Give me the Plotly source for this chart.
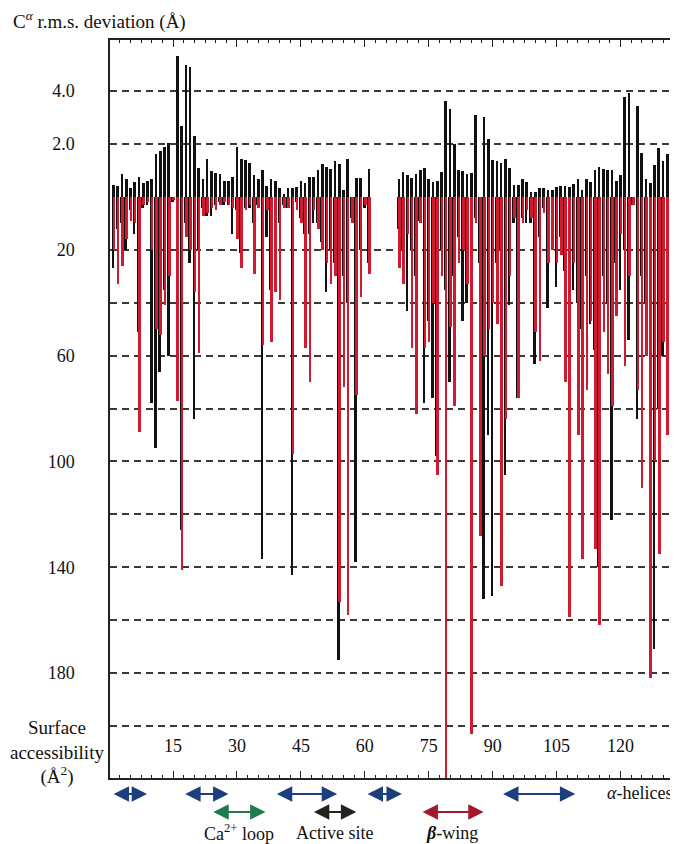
import plotly.graph_objects as go

# ---------------- data ----------------
residues = list(range(1, 133))

rms_dev = [1.17, 1.15, 1.35, 1.26, 1.13, 1.21, 1.30, 1.20, 1.24, 1.26,
           1.75, 1.83, 1.92, 2.03, None, 6.3, 2.54, 5.6, 5.5, 2.22,
           1.46, 1.26, 1.64, 1.40, 1.37, 1.35, 1.24, 1.24, 1.30, 1.92,
           1.64, 1.63, 1.56, 1.33, 1.26, 1.42, 1.16, 1.26, 1.23, 1.13,
           1.04, 1.13, 1.13, 1.14, 1.23, 1.20, 1.30, 1.30, 1.42, 1.55,
           1.48, 1.45, 1.60, 1.53, 1.09, 1.64, None, 1.28, 1.28, None,
           1.44, None, None, None, None, None, None, 1.27, 1.39, 1.33,
           1.29, 1.35, 1.42, 1.47, 1.26, 1.21, 1.23, 1.39, 3.5, 3.16,
           1.99, 1.42, 1.41, 1.36, 1.37, 2.94, None, 2.84, 2.14, 1.63,
           1.60, 1.56, 1.65, 1.46, 1.17, 1.17, 1.26, 1.21, 1.07, 1.07,
           1.13, 1.13, 1.09, 1.09, 1.14, 1.16, 1.15, 1.14, 1.19, 1.27,
           1.09, 1.26, 1.21, 1.42, 1.48, 1.44, 1.42, 1.42, 1.23, 1.34,
           3.68, 3.88, None, 3.3, 1.78, 1.26, 1.20, 1.52, 1.91, 1.60,
           1.76, 1.47]

acc_black = [27, 12, 10, 20, 5, 14, 51, 4, 3, 78,
             95, 66, 35, 60, 2, 5, 126, 10, 25, 84,
             20, 4, 7, 7, 3, 2, 3, 3, 14, 5,
             21, 4, 4, 10, 3, 137, 15, 35, 20, 10,
             3, 4, 143, 2, 8, 14, 14, 10, 10, 17,
             36, 20, 25, 175, 30, 40, 8, 138, 20, 4,
             25, None, None, None, None, None, None, 12, 20, 43,
             20, 30, 9, 78, 47, 76, 98, 20, 35, 70,
             30, 15, 47, 40, 10, 8, 25, 152, 90, 151,
             25, 20, 105, 41, 10, 76, 8, 10, 10, 63,
             15, 4, 42, 12, 34, 15, 28, 132, 35, 40,
             50, 30, 48, 58, 140, 30, 40, 122, 25, 35,
             20, 54, 3, 84, 30, 40, 60, 171, 80, 60,
             60, 126]

acc_red = [20, 33, 26, 16, 9, 10, 89, 3, 2, 20,
           50, 52, 41, 30, 1, 77, 141, 15, 20, 36,
           59, 7, 6, 4, 5, 3, 2, 3, 4, 16,
           27, 5, 3, 29, 4, 56, 5, 55, 36, 39,
           4, 4, 97, 5, 10, 57, 70, 5, 12, 20,
           25, 33, 30, 153, 72, 158, 10, 75, 38, 3,
           29, None, None, None, None, None, None, 27, 33, 14,
           57, 82, 10, 57, 55, 40, 105, 30, 230, 49,
           79, 25, 20, 33, 203, 10, 128, 60, 50, 40,
           48, 147, 84, 30, 8, 76, 10, 5, 8, 51,
           62, 6, 25, 20, 25, 22, 70, 159, 25, 90,
           137, 73, 47, 133, 162, 51, 67, 79, 45, 14,
           64, 30, 3, 73, 110, 60, 182, 100, 135, 55,
           90, 168]

rms_ticks = [2, 4]
rms_ticktext = ["2.0", "4.0"]
acc_grid = [0, 20, 40, 60, 80, 100, 120, 140, 160, 180, 200]
acc_ticktext = ["", "20", "", "60", "", "100", "", "140", "", "180", ""]
res_ticks = [15, 30, 45, 60, 75, 90, 105, 120]

helices = [(0.7, 8.9), (17.5, 28.0), (39.0, 53.5), (60.3, 68.7), (92.1, 109.4)]
features = [("Ca<sup>2+</sup> loop", 24.1, 36.7, "#1f7a50"),
            ("Active site", 47.7, 58.0, "#222222"),
            ("<b><i>β</i></b>-wing", 73.2, 87.9, "#a3192b")]

# ---------------- figure ----------------
SERIF = "Liberation Serif"
BLACK = "#111111"
RED = "#cf1a30"
BASE = 1.0  # bottom of the log-scaled deviation panel

fig = go.Figure()

fig.add_trace(go.Bar(x=residues, y=acc_black, xaxis="x", yaxis="y",
                     marker=dict(color=BLACK, line=dict(width=0)),
                     width=0.6, offset=-0.42, showlegend=False))
fig.add_trace(go.Bar(x=residues, y=acc_red, xaxis="x", yaxis="y",
                     marker=dict(color=RED, line=dict(width=0)),
                     width=0.6, offset=-0.2, showlegend=False))
fig.add_trace(go.Bar(x=residues,
                     y=[None if v is None else v - BASE for v in rms_dev],
                     xaxis="x2", yaxis="y2", base=BASE,
                     marker=dict(color=BLACK, line=dict(width=0)),
                     width=0.62, offset=-0.31, showlegend=False))

split = 581 / 738
grid_kw = dict(showgrid=True, gridcolor="#3a3a3a", gridwidth=1.6,
               griddash="7px,5px", zeroline=False)

# page body has an 8px margin, so the figure is made 8px smaller
fig.update_layout(
    width=670, height=836,
    margin=dict(l=102, r=1, t=32, b=66),
    paper_bgcolor="white", plot_bgcolor="white",
    barmode="overlay", bargap=0,
    font=dict(family=SERIF, size=18, color="#111111"),
    xaxis=dict(domain=[0, 1], anchor="y", range=[0.2, 132.8],
               showline=True, linecolor="#222", linewidth=1.5,
               showgrid=False, zeroline=False,
               tickmode="array", tickvals=res_ticks,
               ticks="inside", ticklen=7, tickwidth=1.2, tickcolor="#222",
               ticklabelposition="inside", ticklabelstandoff=16,
               tickfont=dict(family=SERIF, size=18, color="#111"),
               minor=dict(dtick=2.5, tick0=0, ticks="inside", ticklen=3,
                          tickwidth=1, tickcolor="#222", showgrid=False)),
    xaxis2=dict(domain=[0, 1], anchor="y2", matches="x", side="top",
                range=[0.2, 132.8],
                showline=True, linecolor="#222", linewidth=1.5,
                showgrid=False, zeroline=False, showticklabels=False,
                tickmode="array", tickvals=res_ticks,
                ticks="inside", ticklen=7, tickwidth=1.2, tickcolor="#222",
                minor=dict(dtick=2.5, tick0=0, ticks="inside", ticklen=3,
                           tickwidth=1, tickcolor="#222", showgrid=False)),
    yaxis=dict(domain=[0, split], anchor="x", range=[219.7, 0],
               tickmode="array", tickvals=acc_grid, ticktext=acc_ticktext,
               ticks="", showline=True, mirror=True, linecolor="#222",
               linewidth=1.5, ticklabelstandoff=30,
               tickfont=dict(family=SERIF, size=18, color="#111"), **grid_kw),
    yaxis2=dict(domain=[split, 1], anchor="x2", type="log",
                range=[0, 0.892],
                tickmode="array", tickvals=rms_ticks, ticktext=rms_ticktext,
                ticks="", showline=True, mirror=True, linecolor="#222",
                linewidth=1.5, ticklabelstandoff=30,
                tickfont=dict(family=SERIF, size=18, color="#111"), **grid_kw),
)

ann = []
ann.append(dict(xref="paper", yref="paper", x=-0.176, y=1.026,
                xanchor="left", yanchor="middle", showarrow=False,
                text="C<sup><i>α</i></sup> r.m.s. deviation (Å)",
                font=dict(family=SERIF, size=19)))
ann.append(dict(xref="paper", yref="paper", x=-0.093, y=0.034,
                xanchor="center", yanchor="middle", showarrow=False,
                text="Surface<br>accessibility<br>(Å<sup>2</sup>)",
                font=dict(family=SERIF, size=19)))

def arrow(x0, x1, yp, color):
    return dict(xref="x", yref="paper", x=x1, y=yp, axref="x", ayref="pixel",
                ax=x0, ay=0, text="", showarrow=True, arrowhead=2,
                arrowside="end+start", arrowsize=1.4, arrowwidth=2.2,
                arrowcolor=color, standoff=0, startstandoff=0)

for a, b in helices:
    ann.append(arrow(a, b, -0.0217, "#1b3f7c"))
ann.append(dict(xref="x", yref="paper", x=116.4, y=-0.0203, xanchor="left",
                yanchor="middle", showarrow=False, text="<i>α</i>-helices",
                font=dict(family=SERIF, size=18)))
for label, a, b, col in features:
    ann.append(arrow(a, b, -0.0461, col))
    ann.append(dict(xref="x", yref="paper", x=(a + b) / 2, y=-0.0745,
                    xanchor="center", yanchor="middle", showarrow=False,
                    text=label, font=dict(family=SERIF, size=18)))

fig.update_layout(annotations=ann)
fig.write_html("out.html")
